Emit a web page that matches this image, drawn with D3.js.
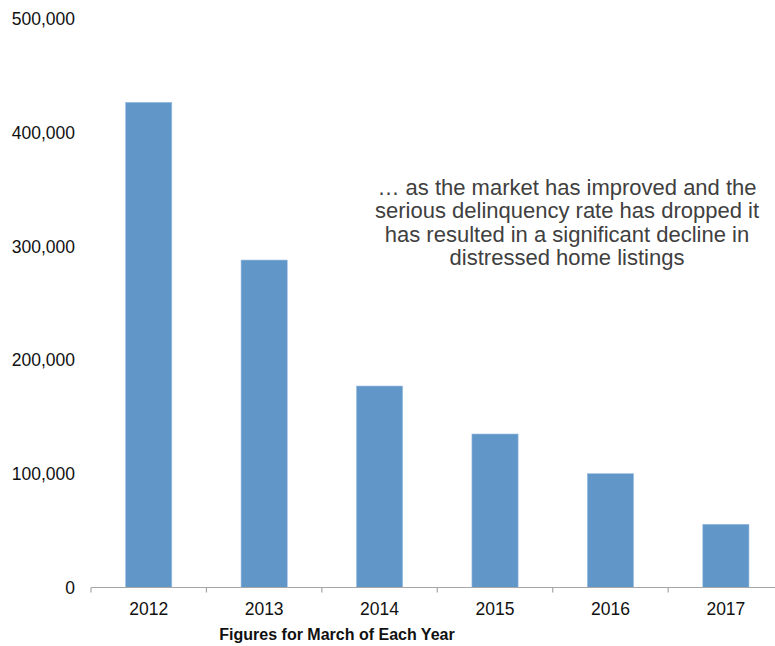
<!DOCTYPE html>
<html><head><meta charset="utf-8">
<script src="https://cdn.jsdelivr.net/npm/d3@7"></script>
<style>body{margin:0;background:#fff}svg{display:block}text{font-family:"Liberation Sans",Arial,sans-serif}</style>
</head><body>
<svg id="c" width="775" height="646"></svg>
<script>
const years = ["2012","2013","2014","2015","2016","2017"];
const listings = [426700, 288000, 177200, 135000, 100100, 55600];
const yTicks = [0, 100000, 200000, 300000, 400000, 500000];
const xTitle = "Figures for March of Each Year";
const note = ["… as the market has improved and the","serious delinquency rate has dropped it","has resulted in a significant decline in","distressed home listings"];

const svg = d3.select("#c");
const x = d3.scaleBand().domain(years).range([91, 783.6]).paddingInner(0.6).paddingOuter(0.3);
const y = d3.scaleLinear().domain([0, 500000]).range([587.5, 19]);

svg.append("g").selectAll("rect").data(listings).join("rect")
  .attr("x", (d,i)=>x(years[i])).attr("width", x.bandwidth())
  .attr("y", d=>y(d)).attr("height", d=>y(0)-y(d))
  .attr("fill", "#6196c9").attr("stroke","#9bbde0").attr("stroke-width",0.6);

// x axis
const xa = svg.append("g");
xa.append("line").attr("x1",91).attr("x2",783.6).attr("y1",y(0)).attr("y2",y(0)).attr("stroke","#a6a6a6").attr("stroke-width",1.2);
const step = x.step();
const tickPos = d3.range(years.length+1).map(i=>91+i*step);
xa.selectAll("line.t").data(tickPos).join("line").attr("class","t")
  .attr("x1",d=>d).attr("x2",d=>d).attr("y1",y(0)).attr("y2",y(0)+5).attr("stroke","#a6a6a6").attr("stroke-width",1.2);
xa.selectAll("text").data(years).join("text")
  .attr("x",d=>x(d)+x.bandwidth()/2).attr("y",615).attr("text-anchor","middle")
  .attr("font-size",17.5).attr("fill","#111").text(d=>d);

// y labels
svg.append("g").selectAll("text").data(yTicks).join("text")
  .attr("x",75).attr("y",d=>y(d)).attr("dy","0.35em").attr("text-anchor","end")
  .attr("font-size",17.5).attr("fill","#111").text(d=>d3.format(",")(d));

svg.append("text").attr("x",337).attr("y",640).attr("text-anchor","middle")
  .attr("font-size",16).attr("font-weight","bold").attr("fill","#111").text(xTitle);

svg.append("g").selectAll("text").data(note).join("text")
  .attr("x",567).attr("y",(d,i)=>187+i*23.5).attr("dy","0.35em").attr("text-anchor","middle")
  .attr("font-size",22).attr("fill","#404040").text(d=>d);
</script>
</body></html>
